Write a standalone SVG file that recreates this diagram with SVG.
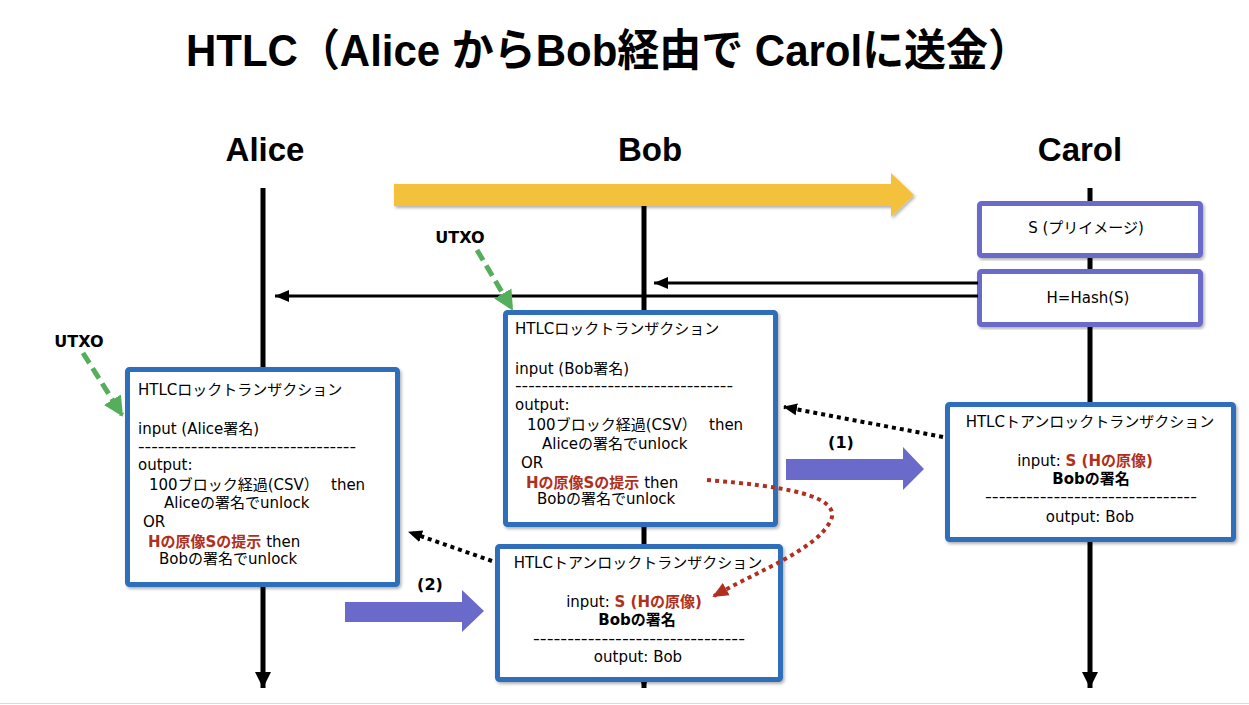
<svg xmlns="http://www.w3.org/2000/svg" width="1249" height="705" viewBox="0 0 1249 705">
<style>
.title{font-family:"Liberation Sans","Noto Sans CJK JP",sans-serif;font-weight:bold;font-size:44px;fill:#000}
.hdr{font-family:"Liberation Sans",sans-serif;font-weight:bold;font-size:33px;fill:#000;text-anchor:middle}
.t{font-family:"DejaVu Sans","Noto Sans CJK JP",sans-serif;font-size:15px;fill:#000;white-space:pre}
.c{text-anchor:middle}
.b{font-weight:bold}
.red{fill:#B03020;font-weight:bold}
.lbl{font-family:"DejaVu Sans",sans-serif;font-weight:bold;font-size:16px;fill:#000}
.box{fill:#fff;stroke:#2F6EBA;stroke-width:5}
.pbox{fill:#fff;stroke:#6B6BC8;stroke-width:5}
.life{stroke:#000;stroke-width:5;fill:none}
</style>
<defs>
<filter id="sh" x="-10%" y="-10%" width="120%" height="120%">
<feDropShadow dx="1.5" dy="2" stdDeviation="1.5" flood-color="#000" flood-opacity="0.3"/>
</filter>
<marker id="ah" markerUnits="userSpaceOnUse" markerWidth="16" markerHeight="16" refX="14" refY="8" orient="auto">
<path d="M0,2 L14,8 L0,14 Z" fill="#000"/>
</marker>
<marker id="ahd" markerUnits="userSpaceOnUse" markerWidth="16" markerHeight="16" refX="13" refY="8" orient="auto">
<path d="M0,2 L14,8 L0,14 Z" fill="#000"/>
</marker>
<marker id="ahr" markerUnits="userSpaceOnUse" markerWidth="18" markerHeight="18" refX="14" refY="9" orient="auto">
<path d="M0,2 L16,9 L0,16 Z" fill="#B03020"/>
</marker>
<marker id="ahg" markerUnits="userSpaceOnUse" markerWidth="22" markerHeight="22" refX="18" refY="11" orient="auto">
<path d="M0,1 L20,11 L0,21 Z" fill="#55AE5C"/>
</marker>
<marker id="ahl" markerUnits="userSpaceOnUse" markerWidth="18" markerHeight="20" refX="16" refY="9" orient="auto">
<path d="M0,1 L16,9 L0,17 Z" fill="#000"/>
</marker>
</defs>
<rect x="0" y="0" width="1249" height="705" fill="#fff"/>
<line x1="0" y1="703.5" x2="1249" y2="703.5" stroke="#d9d9d9" stroke-width="1"/>

<text class="title" x="186" y="66" textLength="844" lengthAdjust="spacingAndGlyphs">HTLC（Alice からBob経由で Carolに送金）</text>

<g id="lifelines">
<text class="hdr" x="265" y="161">Alice</text>
<text class="hdr" x="650" y="161">Bob</text>
<text class="hdr" x="1080" y="161">Carol</text>
<line class="life" x1="263" y1="188" x2="263" y2="688" marker-end="url(#ahl)"/>
<line class="life" x1="644" y1="206" x2="644" y2="688" marker-end="url(#ahl)"/>
<line class="life" x1="1090" y1="188" x2="1090" y2="688" marker-end="url(#ahl)"/>
</g>

<g id="carol-s">
<rect class="pbox" x="979.5" y="203.5" width="221" height="52" rx="2" filter="url(#sh)"/>
<text class="t c" x="1086" y="233">S (プリイメージ)</text>
</g>
<g id="carol-hash">
<rect class="pbox" x="979.5" y="271.5" width="221" height="53" rx="2" filter="url(#sh)"/>
<text class="t c" x="1088" y="303">H=Hash(S)</text>
</g>

<g id="alice-lock">
<rect class="box" x="127.5" y="369.5" width="270" height="215" rx="2" filter="url(#sh)"/>
<text class="t" x="138" y="395">HTLCロックトランザクション</text>
<text class="t" x="138" y="434">input (Alice署名)</text>
<text class="t" x="138" y="452" textLength="218" lengthAdjust="spacingAndGlyphs">---------------------------------</text>
<text class="t" x="138" y="470">output:</text>
<text class="t" x="149" y="490">100ブロック経過(CSV）<tspan x="331">then</tspan></text>
<text class="t" x="164" y="508">Aliceの署名でunlock</text>
<text class="t" x="143" y="527">OR</text>
<text class="t" x="148" y="547"><tspan class="red">Hの原像Sの提示</tspan> then</text>
<text class="t" x="159" y="564">Bobの署名でunlock</text>
</g>

<g id="bob-lock">
<rect class="box" x="505.5" y="312.5" width="270" height="212" rx="2" filter="url(#sh)"/>
<text class="t" x="515" y="334">HTLCロックトランザクション</text>
<text class="t" x="515" y="374">input (Bob署名)</text>
<text class="t" x="515" y="391" textLength="218" lengthAdjust="spacingAndGlyphs">---------------------------------</text>
<text class="t" x="515" y="410">output:</text>
<text class="t" x="527" y="430">100ブロック経過(CSV）<tspan x="709">then</tspan></text>
<text class="t" x="542" y="449">Aliceの署名でunlock</text>
<text class="t" x="521" y="468">OR</text>
<text class="t" x="526" y="488"><tspan class="red">Hの原像Sの提示</tspan> then</text>
<text class="t" x="537" y="504">Bobの署名でunlock</text>
</g>

<g id="bob-unlock">
<rect class="box" x="497.5" y="546.5" width="283" height="133" rx="2" filter="url(#sh)"/>
<text class="t c" x="638" y="568">HTLCトアンロックトランザクション</text>
<text class="t c" x="634" y="607">input: <tspan class="red">S (Hの原像)</tspan></text>
<text class="t c b" x="637" y="625">Bobの署名</text>
<text class="t" x="533" y="644" textLength="212" lengthAdjust="spacingAndGlyphs">-------------------------------</text>
<text class="t c" x="638" y="662">output: Bob</text>
</g>

<g id="carol-unlock">
<rect class="box" x="947.5" y="404.5" width="286" height="135" rx="2" filter="url(#sh)"/>
<text class="t c" x="1090" y="427">HTLCトアンロックトランザクション</text>
<text class="t c" x="1085" y="466">input: <tspan class="red">S (Hの原像)</tspan></text>
<text class="t c b" x="1091" y="484">Bobの署名</text>
<text class="t" x="985" y="502" textLength="212" lengthAdjust="spacingAndGlyphs">-------------------------------</text>
<text class="t c" x="1090" y="522">output: Bob</text>
</g>

<g id="connectors">
<path d="M394,184 L891,184 L891,173 L914,195 L891,217 L891,206 L394,206 Z" fill="#F4C13C" filter="url(#sh)"/>
<line x1="978" y1="283" x2="654" y2="283" stroke="#000" stroke-width="3" marker-end="url(#ah)"/>
<line x1="978" y1="296" x2="275" y2="296" stroke="#000" stroke-width="3" marker-end="url(#ah)"/>
<line x1="477" y1="250" x2="512" y2="309" stroke="#55AE5C" stroke-width="5" stroke-dasharray="12 6" marker-end="url(#ahg)"/>
<line x1="83" y1="353" x2="122" y2="415" stroke="#55AE5C" stroke-width="5" stroke-dasharray="12 6" marker-end="url(#ahg)"/>
<line x1="943" y1="437" x2="784" y2="407" stroke="#000" stroke-width="4" stroke-dasharray="4 4" marker-end="url(#ahd)"/>
<line x1="492" y1="561" x2="409" y2="532" stroke="#000" stroke-width="4" stroke-dasharray="4 4" marker-end="url(#ahd)"/>
<path d="M707,480 C780,486 845,495 830,522 C815,550 760,570 714,596" fill="none" stroke="#B03020" stroke-width="4" stroke-dasharray="4 4" marker-end="url(#ahr)"/>
<path d="M786,459 L903,459 L903,447 L924,469 L903,490 L903,480 L786,480 Z" fill="#6A6ACB"/>
<path d="M345,602 L462,602 L462,590 L484,611 L462,632 L462,622 L345,622 Z" fill="#6A6ACB"/>
<text class="lbl" x="841" y="448" text-anchor="middle">(1)</text>
<text class="lbl" x="430" y="590" text-anchor="middle">(2)</text>
<text class="lbl" x="460" y="243" text-anchor="middle">UTXO</text>
<text class="lbl" x="79" y="347" text-anchor="middle">UTXO</text>
</g>
</svg>
